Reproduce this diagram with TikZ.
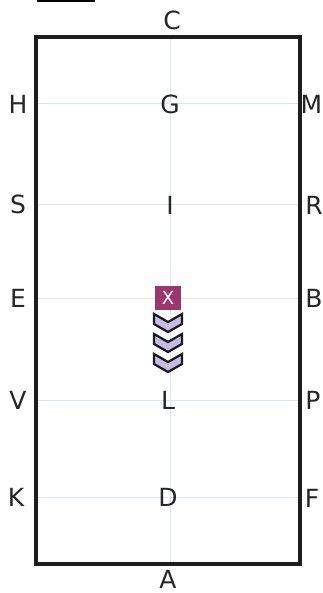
\documentclass[tikz,border=0pt]{standalone}
\usepackage{fontspec}
\setmainfont{DejaVu Sans}
\definecolor{gridc}{HTML}{DCE9EC}
\definecolor{xmag}{HTML}{9C3670}
\definecolor{lav}{HTML}{C6B9E6}
\definecolor{frame}{HTML}{1E1E1E}
\tikzset{
  lbl/.style={font=\fontsize{25}{25}\selectfont, text=black!85, inner sep=0pt},
  gridln/.style={draw=gridc, line width=1pt},
  chev/.style={draw=black!90, fill=lav, line width=2.2pt, line join=miter},
}
\begin{document}
\begin{tikzpicture}[x=1pt,y=-1pt]
\useasboundingbox (0,0) rectangle (322,593);
% fragment at top
\draw[black, line width=3pt] (37,1) -- (95,1);
% faint grid
\foreach \yy in {104,205,298,400,497}{\draw[gridln] (36,\yy) -- (300,\yy);}
\draw[gridln] (170,37) -- (170,563);
% arena frame
\draw[frame, line width=3.5pt] (36,37) rectangle (300,564);
% letters
\node[lbl] (C) at (172,20) {C};
\node[lbl] (H) at (18,104) {H};
\node[lbl] (G) at (170,104) {G};
\node[lbl] (M) at (311.5,104) {M};
\node[lbl] (S) at (18,204) {S};
\node[lbl] (I) at (170,205) {I};
\node[lbl] (R) at (314,205) {R};
\node[lbl] (E) at (18,298) {E};
\node[lbl] (B) at (314,298) {B};
\node[lbl] (V) at (18,400) {V};
\node[lbl] (L) at (168,400) {L};
\node[lbl] (P) at (313,400) {P};
\node[lbl] (K) at (16,497) {K};
\node[lbl] (D) at (168,497) {D};
\node[lbl] (F) at (312,498) {F};
\node[lbl] (A) at (168,579) {A};
% X marker
\node[fill=xmag, text=white, minimum width=26pt, minimum height=24pt, inner sep=0pt,
      font=\fontsize{18}{18}\selectfont] (X) at (168,298) {X};
% chevrons
\foreach \ty in {314,334,354}{
  \draw[chev] (154,\ty) -- (168,\ty+8) -- (182,\ty) -- (182,\ty+10) -- (168,\ty+18) -- (154,\ty+10) -- cycle;
}
\end{tikzpicture}
\end{document}
